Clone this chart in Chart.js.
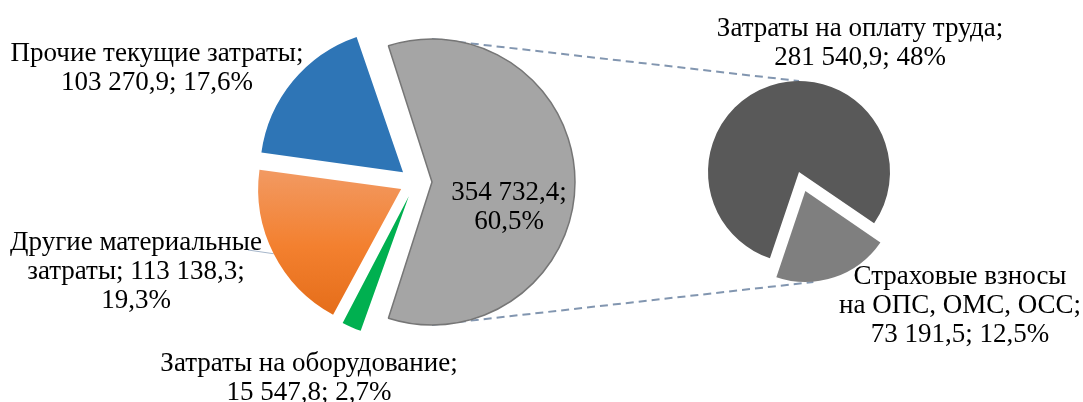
<!DOCTYPE html>
<html><head><meta charset="utf-8">
<script src="https://cdn.jsdelivr.net/npm/chart.js@4.4.1/dist/chart.umd.min.js"></script>
<style>
html,body{margin:0;padding:0;background:#fff;}
#wrap{position:relative;width:1083px;height:402px;overflow:hidden;background:#fff;font-family:"Liberation Serif","Times New Roman",serif;}
#wrap canvas{position:absolute;}
.lbl{position:absolute;white-space:nowrap;font-size:27px;line-height:27px;color:#000;transform:translate(-50%,-50%);z-index:3;}
</style></head>
<body><div id="wrap">
<canvas id="links" width="1083" height="402" style="left:0;top:0;z-index:0"></canvas>
<canvas id="main" width="400" height="364" style="left:215px;top:0;z-index:1"></canvas>
<canvas id="sub" width="240" height="240" style="left:679px;top:52px;z-index:1"></canvas>
</div>
<script>
// ---- data ----
const mainCategories = ['Прочие текущие затраты', 'Другие материальные затраты', 'Затраты на оборудование', 'Затраты на персонал'];
const mainValues = [103270.9, 113138.3, 15547.8, 354732.4];
const mainPercents = [17.6, 19.3, 2.7, 60.5];
const subCategories = ['Затраты на оплату труда', 'Страховые взносы на ОПС, ОМС, ОСС'];
const subValues = [281540.9, 73191.5];
const subPercents = [48, 12.5];

// ---- styles ----
const mainColors = ['#2e75b6', 'orange-gradient', '#00b050', '#a5a5a5'];
const mainOffsets = [62, 62, 62, 68];
const subColors = ['#595959', '#7f7f7f'];
const subOffsets = [0, 80];

function fmt(v) {
  const parts = v.toFixed(1).split('.');
  const intPart = parts[0].replace(/\B(?=(\d{3})+(?!\d))/g, '\u00a0');
  return intPart + ',' + parts[1];
}
function pct(p) { return String(p).replace('.', ',') + '%'; }

// keep every slice at the same radius (Excel style) despite offset growth
const keepRadius = {
  id: 'keepRadius',
  afterDatasetsUpdate(chart) {
    chart.getDatasetMeta(0).data.forEach(el => {
      const o = ((el.options && el.options.offset) || 0) / 4;
      const fix = 1 - Math.sin(Math.min(Math.PI, el.circumference));
      el.outerRadius = el.outerRadius - o * fix;
    });
  }
};

// main pie: clockwise grey, green, orange, blue
const order = [3, 2, 1, 0];
const mainTotal = mainValues.reduce((a, b) => a + b, 0);
const greyShare = mainValues[3] / mainTotal;
let orangeGrad = null;
const mainChart = new Chart(document.getElementById('main'), {
  type: 'pie',
  data: {
    labels: order.map(i => mainCategories[i]),
    datasets: [{
      data: order.map(i => mainValues[i]),
      backgroundColor: (ctx) => {
        if (ctx.type !== 'data') return '#a5a5a5';
        const cat = order[ctx.dataIndex];
        if (mainColors[cat] !== 'orange-gradient') return mainColors[cat];
        const ca = ctx.chart.chartArea;
        if (!ca) return '#f07f30';
        if (!orangeGrad) {
          const cy = (ca.top + ca.bottom) / 2;
          orangeGrad = ctx.chart.ctx.createLinearGradient(0, cy - 20, 0, cy + 135);
          orangeGrad.addColorStop(0, '#f29a63');
          orangeGrad.addColorStop(0.5, '#f3802f');
          orangeGrad.addColorStop(1, '#e36b17');
        }
        return orangeGrad;
      },
      borderColor: order.map(i => i === 3 ? '#767676' : 'rgba(0,0,0,0)'),
      borderWidth: order.map(i => i === 3 ? 1.5 : 0),
      offset: order.map(i => mainOffsets[i]),
      hoverOffset: 0
    }]
  },
  options: {
    responsive: false, animation: false, events: [],
    radius: 143,
    rotation: 90 - greyShare * 180,
    layout: { padding: 0 },
    plugins: { legend: { display: false }, tooltip: { enabled: false } }
  },
  plugins: [keepRadius]
});

// secondary pie: dark then light clockwise, light slice centred at ~71.5deg
const subTotal = subValues.reduce((a, b) => a + b, 0);
const darkDeg = subValues[0] / subTotal * 360;
const lightDeg = subValues[1] / subTotal * 360;
const subChart = new Chart(document.getElementById('sub'), {
  type: 'pie',
  data: {
    labels: subCategories,
    datasets: [{
      data: subValues,
      backgroundColor: subColors,
      borderWidth: 0,
      offset: subOffsets,
      hoverOffset: 0
    }]
  },
  options: {
    responsive: false, animation: false, events: [],
    radius: 91,
    rotation: 71.5 - darkDeg - lightDeg / 2 + 90,
    layout: { padding: 0 },
    plugins: { legend: { display: false }, tooltip: { enabled: false } }
  },
  plugins: [keepRadius]
});

// ---- connector lines ----
function geom(chart, idx) {
  const el = chart.getDatasetMeta(0).data[idx];
  const o = ((el.options && el.options.offset) || 0) / 4;
  const half = (el.startAngle + el.endAngle) / 2;
  const fix = 1 - Math.sin(Math.min(Math.PI, el.circumference));
  const cv = chart.canvas;
  return {
    x: cv.offsetLeft + el.x + Math.cos(half) * o,
    y: cv.offsetTop + el.y + Math.sin(half) * o,
    r: el.outerRadius + o * fix,
    mid: half
  };
}
const lc = document.getElementById('links').getContext('2d');
const g = geom(mainChart, order.indexOf(3));
const orng = geom(mainChart, order.indexOf(1));
const dk = geom(subChart, 0);
const lt = geom(subChart, 1);
lc.strokeStyle = '#8296b0';
lc.lineWidth = 2;
lc.setLineDash([8, 5]);
lc.beginPath();
lc.moveTo(g.x, g.y - g.r); lc.lineTo(dk.x, dk.y - dk.r);
lc.moveTo(g.x, g.y + g.r); lc.lineTo(lt.x + 8, lt.y + lt.r);
lc.stroke();
lc.setLineDash([]);
lc.strokeStyle = '#a6b6ca';
lc.lineWidth = 1;
lc.beginPath();
lc.moveTo(248, 250);
lc.lineTo(orng.x + Math.cos(orng.mid) * orng.r, orng.y + Math.sin(orng.mid) * orng.r);
lc.stroke();

// ---- labels ----
const labels = [
  { cx: 157, y0: 52, lines: [mainCategories[0] + ';', fmt(mainValues[0]) + '; ' + pct(mainPercents[0])] },
  { cx: 136, y0: 241, lines: ['Другие материальные', 'затраты; ' + fmt(mainValues[1]) + ';', pct(mainPercents[1])] },
  { cx: 309, y0: 362, lines: [mainCategories[2] + ';', fmt(mainValues[2]) + '; ' + pct(mainPercents[2])] },
  { cx: 509, y0: 191, lines: [fmt(mainValues[3]) + ';', pct(mainPercents[3])] },
  { cx: 860, y0: 27, lines: [subCategories[0] + ';', fmt(subValues[0]) + '; ' + pct(subPercents[0])] },
  { cx: 960, y0: 275, lines: ['Страховые взносы', 'на ОПС, ОМС, ОСС;', fmt(subValues[1]) + '; ' + pct(subPercents[1])] }
];
const wrap = document.getElementById('wrap');
labels.forEach(l => {
  l.lines.forEach((t, k) => {
    const d = document.createElement('div');
    d.className = 'lbl';
    d.textContent = t;
    d.style.left = l.cx + 'px';
    d.style.top = (l.y0 + k * 29) + 'px';
    wrap.appendChild(d);
  });
});
</script>
</body></html>
